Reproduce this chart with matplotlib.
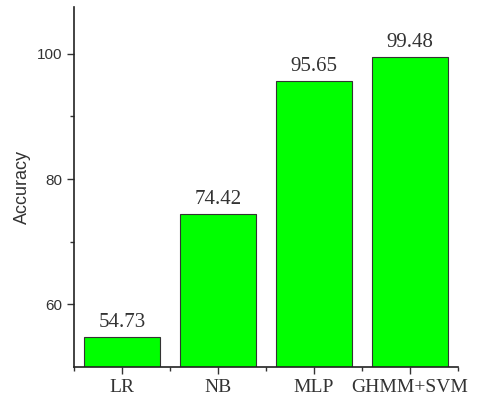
import numpy as np
import matplotlib.pyplot as plt
from matplotlib.ticker import FixedLocator

models = ['LR', 'NB', 'MLP', 'GHMM+SVM']
accuracy = [54.73, 74.42, 95.65, 99.48]

fig = plt.figure(figsize=(4.8, 4.04), dpi=100)
ax = fig.add_axes([0.154, 0.092, 0.80, 0.891])

x = np.arange(1, len(models) + 1)
bars = ax.bar(x, accuracy, width=0.79, color='#00ff00', edgecolor='#333333', linewidth=0.8)

for xi, v in zip(x, accuracy):
    ax.text(xi, v + 0.8, '%.2f' % v, ha='center', va='bottom',
            family='Liberation Serif', fontsize=15, color='#333333')

ax.set_xlim(0.5, 4.5)
ax.set_ylim(50, 107.5)
ax.set_xticks(x)
ax.set_xticklabels(models, family='Liberation Serif', fontsize=14, color='#222222')
ax.xaxis.set_minor_locator(FixedLocator([0.5, 1.5, 2.5, 3.5, 4.5]))
ax.yaxis.set_major_locator(FixedLocator([60, 80, 100]))
ax.yaxis.set_minor_locator(FixedLocator([70, 90]))
for lab in ax.get_yticklabels():
    lab.set_family('Liberation Sans')
    lab.set_fontsize(11)
    lab.set_color('#444444')
ax.set_ylabel('Accuracy', family='Liberation Sans', fontsize=13, color='#333333')

ax.tick_params(which='both', direction='out', width=1, colors='#333333')
ax.tick_params(which='major', length=5)
ax.tick_params(which='minor', length=3)
ax.spines['top'].set_visible(False)
ax.spines['right'].set_visible(False)
for s in ['left', 'bottom']:
    ax.spines[s].set_linewidth(1.2)
    ax.spines[s].set_color('#222222')

fig.savefig('out.png', dpi=100)
